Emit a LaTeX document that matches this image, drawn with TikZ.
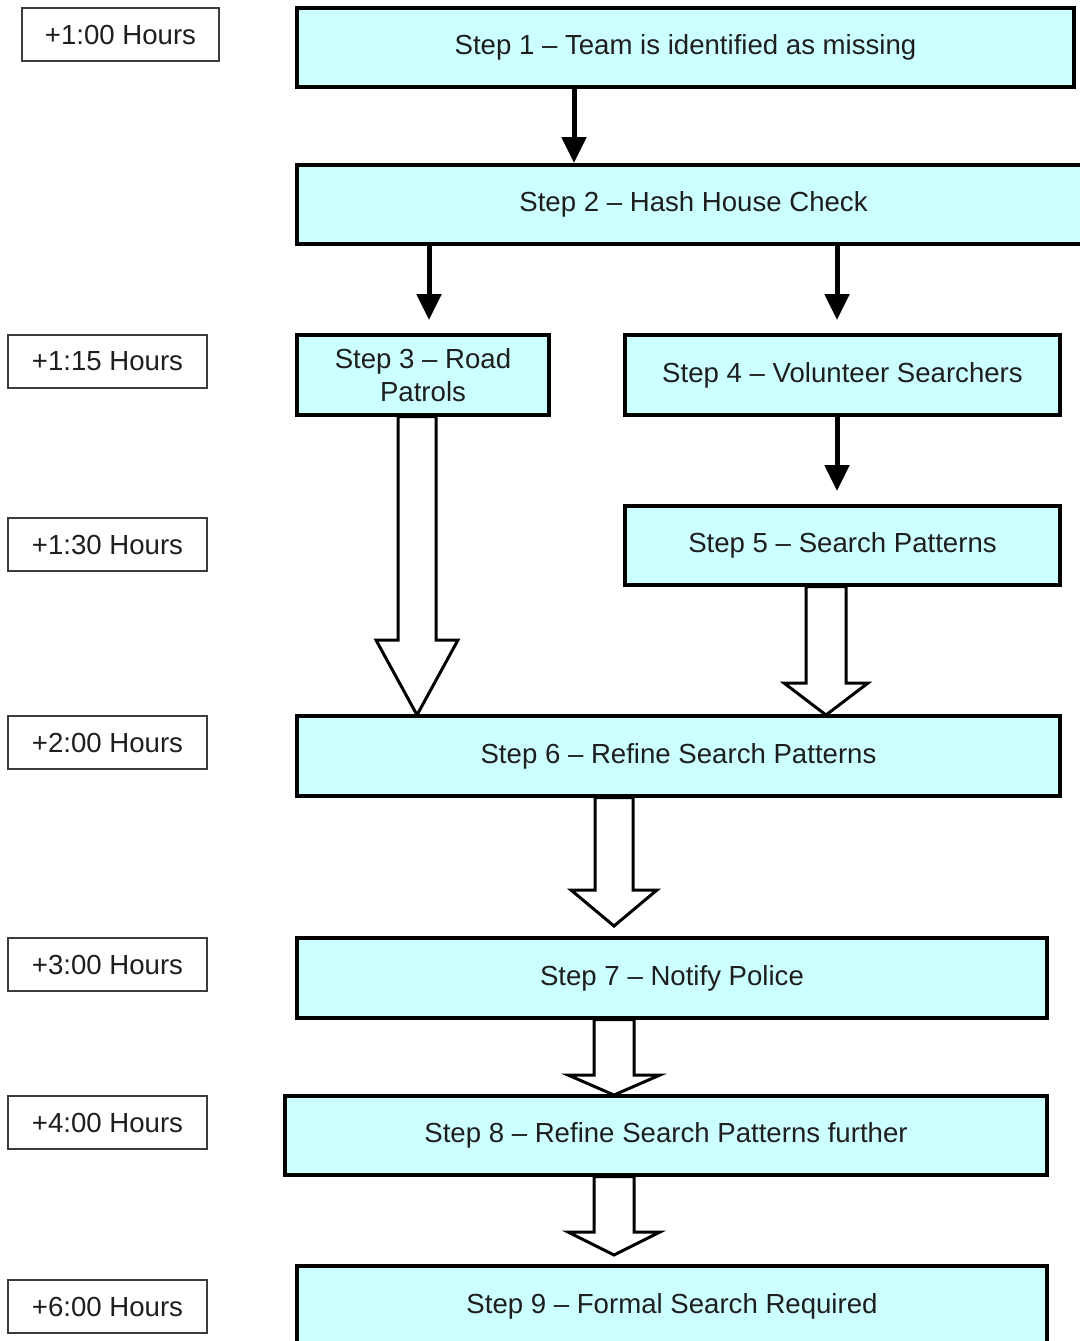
\documentclass[tikz,border=0pt]{standalone}
\usepackage{fontspec}
\setmainfont{Liberation Sans}
\usetikzlibrary{arrows.meta,calc}
\definecolor{stepcyan}{RGB}{204,255,255}
\definecolor{lblgray}{RGB}{60,60,60}
\definecolor{txtgray}{RGB}{30,30,30}

\tikzset{
  stepbox/.style={draw=black, line width=1.6pt, fill=stepcyan, inner sep=0pt,
    align=center, text=txtgray, font=\fontsize{13.8}{16.5}\selectfont},
  timebox/.style={draw=lblgray, line width=0.8pt, fill=white, inner sep=0pt,
    minimum width=99.5pt, minimum height=26.5pt, text=txtgray,
    font=\fontsize{13.8}{16.5}\selectfont},
  thinarrow/.style={line width=2.5pt, -{Triangle[width=12pt,length=13pt]}},
  fatarrow/.style={draw=black, fill=white, line width=1.5pt, line join=miter},
}

% hollow block arrow: box above, tip, half shaft, half head, head length
\newcommand{\blockarrow}[5]{%
  \path (#2 |- #1.south) coordinate (ba-top);
  \draw[fatarrow] ($(ba-top)+(-#3,0)$) -- ($(#2)+(-#3,-#5)$) -- ($(#2)+(-#4,-#5)$)
    -- (#2) -- ($(#2)+(#4,-#5)$) -- ($(#2)+(#3,-#5)$) -- ($(ba-top)+(#3,0)$) -- cycle;
}

\begin{document}
\begin{tikzpicture}[x=0.5pt,y=-0.5pt]
  \clip (0,0) rectangle (1080,1341);
  \fill[white] (0,0) rectangle (1080,1341);

  % Time labels
  \node[timebox, minimum width=98.5pt] (h100) at (120.5,34.5) {+1:00 Hours};
  \node[timebox] (h115) at (107.5,361.5) {+1:15 Hours};
  \node[timebox] (h130) at (107.5,544.5) {+1:30 Hours};
  \node[timebox] (h200) at (107.5,742.5) {+2:00 Hours};
  \node[timebox] (h300) at (107.5,964.5) {+3:00 Hours};
  \node[timebox] (h400) at (107.5,1122.5) {+4:00 Hours};
  \node[timebox] (h600) at (107.5,1306.5) {+6:00 Hours};

  % Arrow tips
  \coordinate (t12) at (574,163);
  \coordinate (t23) at (429,320);
  \coordinate (t24) at (837,320);
  \coordinate (t45) at (837,491);
  \coordinate (t36) at (417,715);
  \coordinate (t56) at (826,715);
  \coordinate (t67) at (614,926);
  \coordinate (t78) at (614,1095);
  \coordinate (t89) at (614,1255);

  % Block arrows (behind the boxes)
  \node[stepbox, minimum width=126pt, minimum height=40pt] (s3) at (423,375)
    {Step 3 -- Road\\Patrols};
  \node[stepbox, minimum width=217.5pt, minimum height=39.5pt] (s5) at (842.5,545.5)
    {Step 5 -- Search Patterns};
  \node[stepbox, minimum width=381.5pt, minimum height=40pt] (s6) at (678.5,756)
    {Step 6 -- Refine Search Patterns};
  \node[stepbox, minimum width=375pt, minimum height=40pt] (s7) at (672,978)
    {Step 7 -- Notify Police};
  \node[stepbox, minimum width=381pt, minimum height=39.5pt] (s8) at (666,1135.5)
    {Step 8 -- Refine Search Patterns further};
  \blockarrow{s3}{t36}{19}{41}{75}
  \blockarrow{s5}{t56}{20}{42}{32}
  \blockarrow{s6}{t67}{19}{43}{36}
  \blockarrow{s7}{t78}{20}{46}{20}
  \blockarrow{s8}{t89}{20}{46}{23}

  % Steps
  \node[stepbox, minimum width=388.5pt, minimum height=39.5pt] (s1) at (685.5,47.5)
    {Step 1 -- Team is identified as missing};
  \node[stepbox, minimum width=396.5pt, minimum height=39.5pt] (s2) at (693.5,204.5)
    {Step 2 -- Hash House Check};
  \node[stepbox, minimum width=217.5pt, minimum height=40pt] (s4) at (842.5,375)
    {Step 4 -- Volunteer Searchers};
  \node[stepbox, minimum width=375pt, minimum height=40pt] (s9) at (672,1306)
    {Step 9 -- Formal Search Required};

  % Solid arrows
  \draw[thinarrow] (t12 |- s1.south) -- (t12);
  \draw[thinarrow] (t23 |- s2.south) -- (t23);
  \draw[thinarrow] (t24 |- s2.south) -- (t24);
  \draw[thinarrow] (t45 |- s4.south) -- (t45);
\end{tikzpicture}
\end{document}
